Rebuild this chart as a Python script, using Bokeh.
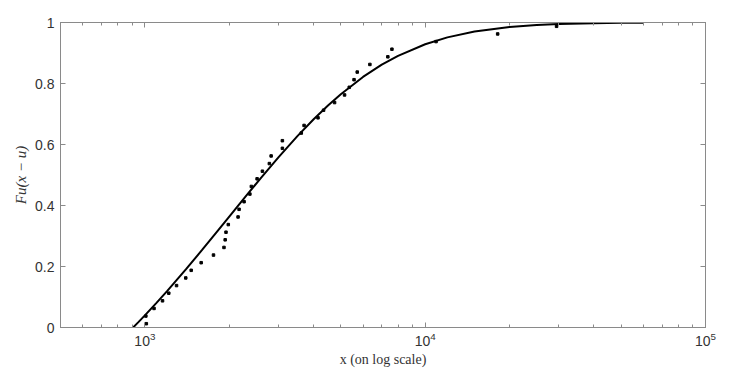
from bokeh.plotting import figure
from bokeh.models import (FixedTicker, LinearAxis, CustomJSTickFormatter,
                          NumeralTickFormatter, LogTickFormatter, Range1d)
from bokeh.embed import file_html
from bokeh.resources import INLINE

# empirical points (x on log scale, F_u(x-u))
pts_x = [1012, 1008, 1078, 1156, 1217, 1297, 1399, 1463, 1588, 1757,
         1915, 1934, 1947, 1984, 2150, 2168, 2259, 2369, 2398, 2514,
         2626, 2780, 2821, 3094, 3094, 3614, 3698, 4146, 4340, 4750,
         5156, 5359, 5574, 5722, 6349, 7358, 7609, 10934, 18137, 29425]
pts_y = [0.0125, 0.0375, 0.0625, 0.0875, 0.1125, 0.1375, 0.1625, 0.1875, 0.2125, 0.2375,
         0.2625, 0.2875, 0.3125, 0.3375, 0.3625, 0.3875, 0.4125, 0.4375, 0.4625, 0.4875,
         0.5125, 0.5375, 0.5625, 0.5875, 0.6125, 0.6375, 0.6625, 0.6875, 0.7125, 0.7375,
         0.7625, 0.7875, 0.8125, 0.8375, 0.8625, 0.8875, 0.9125, 0.9375, 0.9625, 0.9875]

# fitted curve
fit_x = [908, 950, 1000, 1100, 1200, 1400, 1600, 1800, 2000, 2300, 2600, 3000,
         3500, 4000, 4500, 5000, 6000, 7000, 8000, 10000, 12000, 15000, 20000,
         25000, 30000, 40000, 50000, 60000]
fit_y = [0.0, 0.0184, 0.0397, 0.0806, 0.1192, 0.1904, 0.2542, 0.3117, 0.3635,
         0.4322, 0.4915, 0.5586, 0.6273, 0.6826, 0.7278, 0.7649, 0.8215, 0.8616,
         0.8907, 0.9287, 0.9512, 0.9703, 0.9852, 0.9917, 0.9949, 0.9977, 0.9988, 0.9993]

x_major = [1e3, 1e4, 1e5]
x_minor = [m * 10 ** k for k in (2, 3, 4) for m in range(2, 10)]
y_ticks = [0, 0.2, 0.4, 0.6, 0.8, 1]

AX = "#8a8a8a"
LAB = "#333333"

p = figure(frame_width=645, frame_height=305, x_axis_type="log",
           x_range=Range1d(500, 1e5), y_range=Range1d(0, 1),
           output_backend="svg", toolbar_location=None,
           min_border_left=60, min_border_right=20,
           min_border_top=22, min_border_bottom=44)
p.background_fill_color = "white"
p.border_fill_color = "white"
p.outline_line_color = AX
p.xgrid.visible = False
p.ygrid.visible = False

xa = p.xaxis[0]
xa.ticker = FixedTicker(ticks=x_major, minor_ticks=x_minor)
xa.formatter = LogTickFormatter()
ya = p.yaxis[0]
ya.ticker = FixedTicker(ticks=y_ticks)
ya.formatter = NumeralTickFormatter(format="0.[0]")

for ax in (xa, ya):
    ax.axis_line_color = AX
    ax.major_tick_line_color = AX
    ax.minor_tick_line_color = AX
    ax.major_tick_in = 5
    ax.major_tick_out = 0
    ax.minor_tick_in = 3
    ax.minor_tick_out = 0
    ax.major_label_text_color = LAB
    ax.major_label_text_font = "Liberation Sans"
    ax.major_label_text_font_size = "14px"
    ax.axis_label_text_color = LAB
    ax.axis_label_text_font = "Liberation Serif"
    ax.axis_label_text_font_size = "14px"

xa.axis_label = "x (on log scale)"
xa.axis_label_text_font_style = "normal"
xa.major_label_standoff = 4
xa.axis_label_standoff = 3
ya.axis_label = "Fu(x − u)"
ya.axis_label_text_font_style = "italic"
ya.axis_label_text_font_size = "15px"
ya.major_label_standoff = 6
ya.axis_label_standoff = 3
ya.minor_tick_line_color = None

# mirrored tick marks on the top and right box edges
top = LinearAxis(ticker=FixedTicker(ticks=x_major, minor_ticks=x_minor),
                 formatter=CustomJSTickFormatter(code="return ''"))
right = LinearAxis(ticker=FixedTicker(ticks=y_ticks),
                   formatter=CustomJSTickFormatter(code="return ''"))
for ax in (top, right):
    ax.axis_line_color = AX
    ax.major_tick_line_color = AX
    ax.minor_tick_line_color = AX
    ax.major_tick_in = 5
    ax.major_tick_out = 0
    ax.minor_tick_in = 3
    ax.minor_tick_out = 0
    ax.major_label_text_font_size = "0px"
    ax.major_label_standoff = 0
right.minor_tick_line_color = None
p.add_layout(top, "above")
p.add_layout(right, "right")

p.line(fit_x, fit_y, line_color="black", line_width=2)
p.scatter(pts_x, pts_y, size=2.5, marker="square", fill_color="black", line_color="black")

open("out.html", "w").write(file_html(p, INLINE))
